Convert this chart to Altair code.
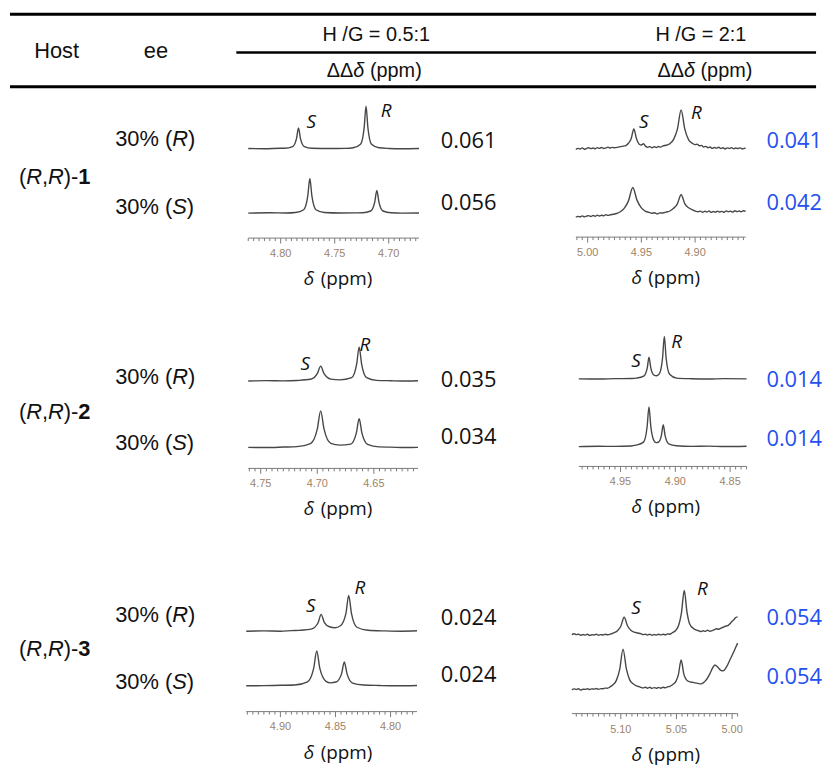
import altair as alt
import pandas as pd

OFF = 8  # page margin: page px -> chart px

# ---------------- data ----------------
host_ids = ["1", "2", "3"]
ee_configs = ["R", "S"]
ee_value = "30%"
ratio_titles = ["H /G = 0.5:1", "H /G = 2:1"]
ddd_half = ["0.061", "0.056", "0.035", "0.034", "0.024", "0.024"]
ddd_two = ["0.041", "0.042", "0.014", "0.014", "0.054", "0.054"]

tick_labels = [
    ["4.80", "4.75", "4.70"],
    ["5.00", "4.95", "4.90"],
    ["4.75", "4.70", "4.65"],
    ["4.95", "4.90", "4.85"],
    ["4.90", "4.85", "4.80"],
    ["5.10", "5.05", "5.00"],
]
ppm_domains = [
    [4.672, 4.830], [4.853, 5.011],
    [4.611, 4.761], [4.835, 4.988],
    [4.776, 4.931], [4.995, 5.144],
]

# spectra (ppm, intensity a.u.)
t1a_ppm = [4.830, 4.815, 4.800, 4.7961, 4.7889, 4.7853, 4.7835, 4.7817, 4.7781, 4.7709, 4.755, 4.740,
           4.7329, 4.7261, 4.7227, 4.7210, 4.7193, 4.7159, 4.7091, 4.700, 4.688, 4.672]
t1a_int = [0.3, 0.0, 0.5, 0.5, 2.2, 10.5, 21, 10.5, 2.2, 0.5, 0.2, 0.4,
           1.0, 4.5, 21.5, 43, 21.5, 4.5, 1.0, 0.3, 0.0, 0.2]
t1b_ppm = [4.830, 4.810, 4.795, 4.7863, 4.7787, 4.7749, 4.7730, 4.7711, 4.7673, 4.7597, 4.745, 4.730,
           4.7243, 4.7167, 4.7129, 4.7110, 4.7091, 4.7053, 4.6977, 4.688, 4.672]
t1b_int = [0.2, 0.5, 0.3, 0.8, 3.6, 17.5, 35, 17.5, 3.6, 0.8, 0.3, 0.4,
           0.5, 2.3, 11.5, 23, 11.5, 2.3, 0.5, 0.2, 0.3]

t2a_ppm = [5.011, 5.009, 5.007, 5.005, 5.003, 5.001, 4.999, 4.997, 4.995, 4.993, 4.991, 4.989, 4.987,
           4.985, 4.983, 4.981, 4.979, 4.977, 4.975,
           4.9715, 4.968, 4.9645, 4.962, 4.9595, 4.957, 4.9545, 4.952, 4.950, 4.948, 4.946, 4.944,
           4.942, 4.940, 4.938, 4.936, 4.934, 4.932, 4.930, 4.927,
           4.9235, 4.920, 4.9165, 4.913, 4.9095, 4.906, 4.9025, 4.900, 4.898, 4.896, 4.894, 4.892,
           4.890, 4.888, 4.886, 4.884, 4.882, 4.880, 4.878, 4.876, 4.874, 4.872, 4.870, 4.868, 4.866,
           4.864, 4.862, 4.860, 4.858, 4.856, 4.854, 4.853]
t2a_int = [-0.8, 0.4, -0.3, 0.9, -0.5, 0.3, 1.0, 0.1, 0.8, -0.1, 1.1, 0.4, 1.3,
           0.3, 0.9, 1.6, 0.7, 1.4, 1.0,
           1.6, 2.4, 3.2, 5.5, 10, 20, 10, 4.6, 3.8, 5.0, 2.4, 1.4,
           2.2, 0.9, 2.0, 1.2, 2.3, 1.6, 2.8, 3.5,
           5.0, 9.5, 19.5, 39, 19.5, 9.0, 5.5, 4.2, 4.6, 3.0, 3.4, 1.8,
           2.4, 1.0, 1.8, 0.4, 1.3, 0.6, 1.5, 0.2, 1.0, -0.2, 0.9, 0.3, 1.1,
           -0.1, 0.7, 0.2, 0.9, -0.2, 0.5, 0.3]
t2b_ppm = [5.011, 5.009, 5.007, 5.005, 5.003, 5.001, 4.999, 4.997, 4.995, 4.993, 4.991, 4.989, 4.987,
           4.985, 4.983, 4.981, 4.979, 4.976, 4.973,
           4.970, 4.966, 4.962, 4.958, 4.954, 4.950, 4.946, 4.943, 4.940, 4.938, 4.935, 4.933, 4.930, 4.927,
           4.9235, 4.920, 4.9165, 4.913, 4.9095, 4.906, 4.9025, 4.900, 4.897, 4.895, 4.893,
           4.891, 4.889, 4.887, 4.885, 4.883, 4.881, 4.879, 4.877, 4.875, 4.873, 4.871, 4.869, 4.867,
           4.865, 4.863, 4.861, 4.859, 4.857, 4.855, 4.853]
t2b_int = [0.0, 0.9, 0.5, 1.4, 0.4, 1.1, 1.6, 0.8, 1.7, 1.0, 2.1, 1.3, 2.0,
           1.5, 2.6, 1.9, 2.5, 3.0, 3.8,
           5.3, 9.0, 16.5, 30, 17, 9.5, 6.0, 5.0, 4.0, 4.6, 3.4, 4.4, 4.3, 5.2,
           6.3, 9.0, 13.5, 22.7, 13.5, 9.5, 7.5, 6.3, 5.5, 6.2, 5.0,
           6.0, 5.2, 6.4, 4.9, 5.8, 5.1, 6.2, 5.3, 5.9, 5.0, 6.4, 5.6, 6.1,
           5.2, 6.6, 5.7, 6.3, 5.5, 6.6, 6.0]

t3a_ppm = [4.761, 4.745, 4.730, 4.718, 4.706, 4.700, 4.697, 4.694, 4.688, 4.680,
           4.6696, 4.6652, 4.663, 4.6608, 4.6564, 4.6476, 4.635, 4.620, 4.611]
t3a_int = [0, 0.4, 0.2, 0.6, 1.8, 7.5, 15, 7.5, 2.0, 1.2,
           3.4, 17, 34, 17, 3.4, 0.7, 0.3, 0.0, 0.3]
t3b_ppm = [4.761, 4.745, 4.730, 4.718, 4.706, 4.700, 4.697, 4.694, 4.688, 4.680,
           4.6705, 4.6655, 4.663, 4.6605, 4.6555, 4.6455, 4.635, 4.622, 4.611]
t3b_int = [0.2, 0.0, 0.5, 1.0, 4.0, 18.5, 37, 18.5, 4.2, 2.5,
           3.5, 14.5, 29, 14.5, 3.2, 0.7, 0.4, 0.0, 0.2]

t4a_ppm = [4.988, 4.970, 4.955, 4.940, 4.9352, 4.9288, 4.9256, 4.924, 4.9224, 4.9195, 4.917,
           4.9145, 4.9116, 4.910, 4.9084, 4.9052, 4.8988, 4.885, 4.870, 4.855, 4.835]
t4a_int = [0.2, 0.0, 0.4, 0.6, 1.0, 3.0, 11, 22, 11.5, 4.0, 3.4,
           5.4, 21.5, 43, 21.5, 4.8, 1.0, 0.3, 0.0, 0.4, 0.2]
t4b_ppm = [4.988, 4.970, 4.955, 4.940, 4.936, 4.929, 4.9257, 4.924, 4.9223, 4.9195, 4.9175,
           4.915, 4.9127, 4.911, 4.9093, 4.906, 4.899, 4.885, 4.870, 4.855, 4.835]
t4b_int = [0.0, 0.3, 0.2, 0.6, 1.4, 4.5, 20, 40, 20, 6.0, 4.0,
           4.8, 11, 22, 11, 2.8, 0.8, 0.2, 0.4, 0.0, 0.3]

t5a_ppm = [4.931, 4.915, 4.900, 4.890, 4.8826, 4.8714, 4.8658, 4.863, 4.8602, 4.8555, 4.8505,
           4.8455, 4.8405, 4.838, 4.8355, 4.8305, 4.8205, 4.805, 4.790, 4.776]
t5a_int = [0.0, 0.3, 0.0, 0.6, 0.9, 2.4, 8.5, 17, 9, 4.5, 3.5,
           5.5, 18, 36, 18, 4.0, 1.0, 0.3, 0.0, 0.4]
t5b_ppm = [4.931, 4.915, 4.900, 4.887, 4.8754, 4.8698, 4.867, 4.8642, 4.8586, 4.8545,
           4.8495, 4.8445, 4.842, 4.8395, 4.8345, 4.8245, 4.810, 4.795, 4.776]
t5b_int = [0.0, 0.2, 0.5, 0.8, 4.0, 17.5, 35, 17.5, 4.5, 3.0,
           3.8, 12, 24, 12, 2.8, 0.8, 0.3, 0.0, 0.3]

t6a_ppm = [5.144, 5.142, 5.140, 5.138, 5.136, 5.134, 5.132, 5.130, 5.128, 5.126, 5.124, 5.122,
           5.120, 5.118, 5.116, 5.114, 5.112, 5.109,
           5.106, 5.103, 5.100, 5.097, 5.094, 5.091, 5.088, 5.085, 5.082, 5.080,
           5.078, 5.076, 5.074, 5.072, 5.070, 5.068, 5.066, 5.064, 5.062, 5.060, 5.058, 5.056, 5.054,
           5.0505, 5.048, 5.0455, 5.043, 5.0405, 5.038, 5.035, 5.032, 5.030,
           5.028, 5.026, 5.024, 5.022, 5.020, 5.018, 5.016, 5.014, 5.012, 5.010, 5.008, 5.006,
           5.004, 5.002, 5.000, 4.998, 4.997, 4.995]
t6a_int = [0.5, 1.5, 0.6, 1.0, -0.2, 0.7, 0.1, 0.9, -0.3, 0.5, 0.2, 0.9,
           0.0, 0.6, 0.2, 0.9, 0.5, 1.2,
           2.5, 4.5, 9, 18, 9.5, 5.0, 3.0, 2.2, 1.5, 0.6,
           1.0, 0.2, 0.9, 0.0, 0.7, 0.1, 0.9, 0.3, 1.0, 0.4, 1.3, 1.0, 2.2,
           5.0, 10, 22.5, 45, 23, 11, 7, 5.0, 4.5,
           3.6, 4.4, 3.8, 5.0, 4.0, 4.6, 5.5, 6.5, 6.0, 7.0, 8.0, 9.0,
           9.6, 11.5, 14.0, 16.0, 17.5, 18.5]
t6b_ppm = [5.144, 5.142, 5.140, 5.138, 5.136, 5.134, 5.132, 5.130, 5.128, 5.126, 5.124, 5.122,
           5.120, 5.118, 5.116, 5.114, 5.112, 5.110,
           5.107, 5.104, 5.101, 5.098, 5.095, 5.092, 5.089, 5.086, 5.083,
           5.080, 5.078, 5.076, 5.074, 5.072, 5.070, 5.068, 5.066, 5.064, 5.062, 5.060, 5.058, 5.056,
           5.053, 5.0505, 5.0483, 5.0458, 5.0433, 5.041, 5.038, 5.035, 5.033,
           5.030, 5.028, 5.026, 5.024, 5.022, 5.020, 5.0175, 5.0155, 5.013, 5.010, 5.008, 5.005,
           5.002, 4.999, 4.997, 4.995]
t6b_int = [0.0, 0.9, 0.3, 1.0, -0.3, 0.6, 0.4, 1.1, 0.2, 0.9, 0.7, 1.3,
           0.4, 1.2, 1.0, 1.7, 1.6, 2.6,
           5.0, 9.5, 20.5, 41, 21, 10, 6, 4.0, 3,
           1.9, 2.6, 1.6, 2.5, 1.4, 2.2, 1.5, 2.4, 1.6, 2.6, 2.0, 3.0, 3.4,
           5.5, 8.5, 15, 30, 15.5, 10, 8, 7.4, 7,
           6.2, 6.0, 7.0, 9, 12, 16, 22, 25, 23, 19.5, 19, 23,
           30, 37, 42, 47]

# ---------------- layout (page pixels) ----------------
panels = [
    dict(px=(250, 422), bases=(147, 212), ruler=237, lab=253, dlt=278, cx=340,
         S=(313.5, 120.5), R=(389, 109.5), traces=[(t1a_ppm, t1a_int), (t1b_ppm, t1b_int)]),
    dict(px=(580, 751), bases=(147, 216), ruler=236, lab=252, dlt=277, cx=670,
         S=(648.5, 120.5), R=(701.5, 111.5), traces=[(t2a_ppm, t2a_int), (t2b_ppm, t2b_int)]),
    dict(px=(250, 421), bases=(381, 448), ruler=469, lab=485, dlt=510, cx=340,
         S=(307.5, 363.5), R=(367.5, 345), traces=[(t3a_ppm, t3a_int), (t3b_ppm, t3b_int)]),
    dict(px=(583, 752), bases=(379, 447), ruler=467, lab=483, dlt=508, cx=670,
         S=(640.5, 360.5), R=(681.5, 341.5), traces=[(t4a_ppm, t4a_int), (t4b_ppm, t4b_int)]),
    dict(px=(248, 420), bases=(633, 688), ruler=714, lab=730, dlt=756, cx=340,
         S=(313, 608), R=(362.5, 590), traces=[(t5a_ppm, t5a_int), (t5b_ppm, t5b_int)]),
    dict(px=(576, 743), bases=(637, 692), ruler=716, lab=733, dlt=758, cx=670,
         S=(640.5, 610), R=(707.5, 591), traces=[(t6a_ppm, t6a_int), (t6b_ppm, t6b_int)]),
]

row_y = [(137, 176, 206), (377, 412, 443), (617, 651, 684)]   # R-row, host, S-row
val_y = [(139.5, 201.5), (380, 437), (620, 677)]
val2_y = [(139.5, 201.5), (379.5, 439.5), (619.5, 679.5)]

# Arial / Liberation Sans advance widths (1/1000 em)
AW = {'(': 333, ')': 333, 'R': 722, 'S': 667, ',': 278, '-': 333, '1': 556, '2': 556, '3': 556,
      '0': 556, '%': 889, ' ': 278, '\u0394': 668, '\u03b4': 556, 'p': 556, 'm': 833}

SANS = "Liberation Sans"
OPEN = "Open Sans"
INK = "#111111"
BLUE = "#2550f0"
TRACE = "#474747"
RULER = "#7a7a7a"
TICKLAB = "#9c8468"


def one():
    return pd.DataFrame({"d": [0]})


def txt(s, x, y, size, font=SANS, style="normal", weight="normal", color=INK, align="center"):
    return alt.Chart(pd.DataFrame({"t": [s]})).mark_text(
        font=font, fontSize=size, fontStyle=style, fontWeight=weight, color=color,
        align=align, baseline="middle"
    ).encode(x=alt.value(x - OFF), y=alt.value(y - OFF), text="t:N")


def rich(segs, x_left, y, size, font=SANS, color=INK):
    out = []
    x = x_left
    for s, st in segs:
        if s.strip():
            out.append(txt(s, x, y, size, font=font,
                           style="italic" if "i" in st else "normal",
                           weight="bold" if "b" in st else "normal",
                           color=color, align="left"))
        x += sum(AW.get(c, 556) for c in s) * size / 1000.0
    return out


def hrule(x1, x2, y, w):
    return alt.Chart(one()).mark_rule(color="black", strokeWidth=w).encode(
        x=alt.value(x1 - OFF), x2=alt.value(x2 - OFF), y=alt.value(y - OFF))


layers = []

# table rules
layers += [hrule(10, 822, 11.5, 3), hrule(238, 822, 50, 2.5), hrule(10, 822, 84.5, 3)]

# header
layers.append(txt("Host", 57, 48.5, 22))
layers.append(txt("ee", 157, 48.5, 22))
for title, cx in zip(ratio_titles, [379, 706]):
    layers.append(txt(title, cx, 32, 20))
for cx in [377, 710]:
    w = sum(AW[c] for c in "\u0394\u0394\u03b4 (ppm)") * 20 / 1000.0
    layers += rich([("\u0394\u0394", "n"), ("\u03b4", "i"), (" ", "n"), ("(ppm)", "n")],
                   cx - w / 2, 68.5, 20)

# left columns
for k, hid in enumerate(host_ids):
    yr, yh, ys = row_y[k]
    layers += rich([("(", "n"), ("R", "i"), (",", "n"), ("R", "i"), (")-", "n"), (hid, "b")], 19, yh, 22)
    for cfg, yy in zip(ee_configs, (yr, ys)):
        layers += rich([(ee_value + " (", "n"), (cfg, "i"), (")", "n")], 116, yy, 22)

# ΔΔδ values
for k in range(3):
    for j in range(2):
        layers.append(txt(ddd_half[2 * k + j], 472, val_y[k][j], 22, font=OPEN))
        layers.append(txt(ddd_two[2 * k + j], 800, val2_y[k][j], 22, font=OPEN, color=BLUE))

# spectra panels
for p, labels, dom in zip(panels, tick_labels, ppm_domains):
    xl, xr = p["px"]
    dmin, dmax = dom
    xs = alt.Scale(domain=[dmin, dmax], range=[xr - OFF, xl - OFF], nice=False, zero=False)
    for (ppm, inten), base in zip(p["traces"], p["bases"]):
        ys = alt.Scale(domain=[0, 50], range=[base - OFF, base - OFF - 50], nice=False, zero=False)
        layers.append(
            alt.Chart(pd.DataFrame({"ppm": ppm, "I": inten})).mark_line(
                interpolate="monotone", color=TRACE, strokeWidth=1.4
            ).encode(x=alt.X("ppm:Q", scale=xs, axis=None), y=alt.Y("I:Q", scale=ys, axis=None))
        )
    # ruler
    ry = p["ruler"] - OFF
    layers.append(
        alt.Chart(pd.DataFrame({"a": [dmin], "b": [dmax]})).mark_rule(color=RULER, strokeWidth=1).encode(
            x=alt.X("a:Q", scale=xs, axis=None), x2="b:Q", y=alt.value(ry))
    )
    majors = [float(t) for t in labels]
    minors = []
    k0 = int(round(dmin / 0.005)) - 1
    k1 = int(round(dmax / 0.005)) + 1
    for kk in range(k0, k1 + 1):
        v = round(kk * 0.005, 4)
        if dmin <= v <= dmax and all(abs(v - m) > 1e-6 for m in majors):
            minors.append(v)
    layers.append(
        alt.Chart(pd.DataFrame({"v": minors})).mark_rule(color=RULER, strokeWidth=1).encode(
            x=alt.X("v:Q", scale=xs, axis=None), y=alt.value(ry), y2=alt.value(ry + 3))
    )
    layers.append(
        alt.Chart(pd.DataFrame({"v": majors})).mark_rule(color=RULER, strokeWidth=1).encode(
            x=alt.X("v:Q", scale=xs, axis=None), y=alt.value(ry), y2=alt.value(ry + 5.5))
    )
    layers.append(
        alt.Chart(pd.DataFrame({"v": majors, "t": labels})).mark_text(
            font=SANS, fontSize=11, color=TICKLAB, baseline="middle", align="center"
        ).encode(x=alt.X("v:Q", scale=xs, axis=None), y=alt.value(p["lab"] - OFF), text="t:N")
    )
    # S / R peak labels
    layers.append(txt("S", p["S"][0], p["S"][1], 19, font=OPEN, style="italic"))
    layers.append(txt("R", p["R"][0], p["R"][1], 19, font=OPEN, style="italic"))
    # δ (ppm) axis title
    cx = p["cx"]
    layers.append(txt("\u03b4", cx - 34, p["dlt"], 19, font=OPEN, style="italic", align="left"))
    layers.append(txt("(ppm)", cx - 17, p["dlt"], 19, font=OPEN, align="left"))

chart = alt.layer(*layers).resolve_scale(x="independent", y="independent").properties(
    width=823, height=760, autosize=alt.AutoSizeParams(type="none"), padding=0,
    background="white"
).configure_view(strokeWidth=0)

chart.save("out.html", embed_options={"renderer": "svg", "actions": False})
